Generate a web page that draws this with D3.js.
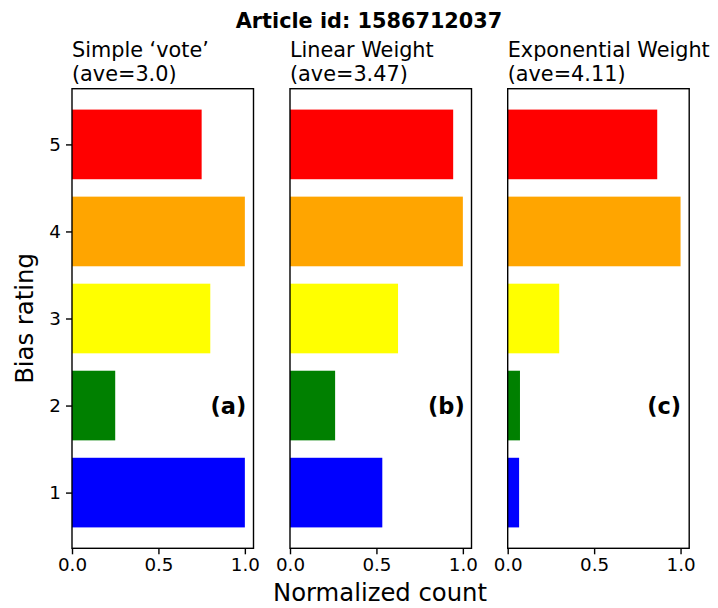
<!DOCTYPE html>
<html>
<head>
<meta charset="utf-8">
<script src="https://cdn.jsdelivr.net/npm/d3@7"></script>
<style>
  body { margin: 0; background: #fff; }
  svg { display: block; font-family: "DejaVu Sans", sans-serif; }
</style>
</head>
<body>
<svg id="chart" width="718" height="608"></svg>
<script>
const ratings = [1, 2, 3, 4, 5];
const barColors = ["#0000ff", "#008000", "#ffff00", "#ffa500", "#ff0000"];
const titles = ["Simple \u2018vote\u2019", "Linear Weight", "Exponential Weight"];
const averages = ["3.0", "3.47", "4.11"];
const panelLabels = ["(a)", "(b)", "(c)"];
const simpleVote = [1.0, 0.25, 0.8, 1.0, 0.75];
const linearWeight = [0.534, 0.261, 0.625, 1.0, 0.944];
const expWeight = [0.066, 0.071, 0.298, 1.0, 0.865];
const xTicks = [0.0, 0.5, 1.0];
const mainTitle = "Article id: 1586712037";
const xLabel = "Normalized count";
const yLabel = "Bias rating";

const series = [simpleVote, linearWeight, expWeight];

const svg = d3.select("#chart");
const panelLefts = [72, 290, 507.7];
const panelW = 181.5;
const plotTop = 88.7, plotBottom = 548.3;
const tickFont = 18.3;

const y = d3.scaleLinear().domain([0.36, 5.64]).range([plotBottom, plotTop]);
const barH = y(0) - y(0.8);

series.forEach((vals, i) => {
  const x = d3.scaleLinear().domain([0, 1.05]).range([panelLefts[i], panelLefts[i] + panelW]);
  const g = svg.append("g");

  g.selectAll("rect.bar").data(vals).enter().append("rect")
    .attr("class", "bar")
    .attr("x", x(0))
    .attr("y", (d, j) => y(ratings[j] + 0.4))
    .attr("width", d => x(d) - x(0))
    .attr("height", barH)
    .attr("fill", (d, j) => barColors[j]);

  const xAxis = d3.axisBottom(x).tickValues(xTicks).tickFormat(d3.format(".1f"))
    .tickSize(6).tickPadding(4);
  const xg = g.append("g").attr("transform", `translate(0,${plotBottom})`).call(xAxis)
    .attr("font-family", "DejaVu Sans").attr("font-size", tickFont);
  xg.select(".domain").remove();
  xg.selectAll(".tick line").attr("stroke", "#000").attr("stroke-width", 1.4);
  xg.selectAll(".tick text").attr("fill", "#000");

  if (i === 0) {
    const yAxis = d3.axisLeft(y).tickValues(ratings).tickFormat(d3.format("d"))
      .tickSize(6).tickPadding(5);
    const yg = g.append("g").attr("transform", `translate(${x(0)},0)`).call(yAxis)
      .attr("font-family", "DejaVu Sans").attr("font-size", tickFont);
    yg.select(".domain").remove();
    yg.selectAll(".tick line").attr("stroke", "#000").attr("stroke-width", 1.4);
    yg.selectAll(".tick text").attr("fill", "#000");
  }

  g.append("rect")
    .attr("x", x(0)).attr("y", plotTop)
    .attr("width", panelW).attr("height", plotBottom - plotTop)
    .attr("fill", "none").attr("stroke", "#000").attr("stroke-width", 1.4);

  const t = g.append("text").attr("x", x(0)).attr("font-size", 20.8).attr("fill", "#000");
  t.append("tspan").attr("x", x(0)).attr("y", 57).text(titles[i]);
  t.append("tspan").attr("x", x(0)).attr("y", 81).text(`(ave=${averages[i]})`);

  g.append("text")
    .attr("x", x(0.905)).attr("y", y(2))
    .attr("dy", "0.36em")
    .attr("text-anchor", "middle")
    .attr("font-size", 22.5).attr("font-weight", "bold").attr("fill", "#000")
    .text(panelLabels[i]);
});

svg.append("text")
  .attr("x", 369).attr("y", 27.5)
  .attr("text-anchor", "middle")
  .attr("font-size", 20.8).attr("font-weight", "bold").attr("fill", "#000")
  .text(mainTitle);

svg.append("text")
  .attr("x", 380).attr("y", 601)
  .attr("text-anchor", "middle")
  .attr("font-size", 24.3).attr("fill", "#000")
  .text(xLabel);

svg.append("text")
  .attr("transform", `translate(33,${(plotTop + plotBottom) / 2}) rotate(-90)`)
  .attr("text-anchor", "middle")
  .attr("font-size", 24.3).attr("fill", "#000")
  .text(yLabel);
</script>
</body>
</html>
